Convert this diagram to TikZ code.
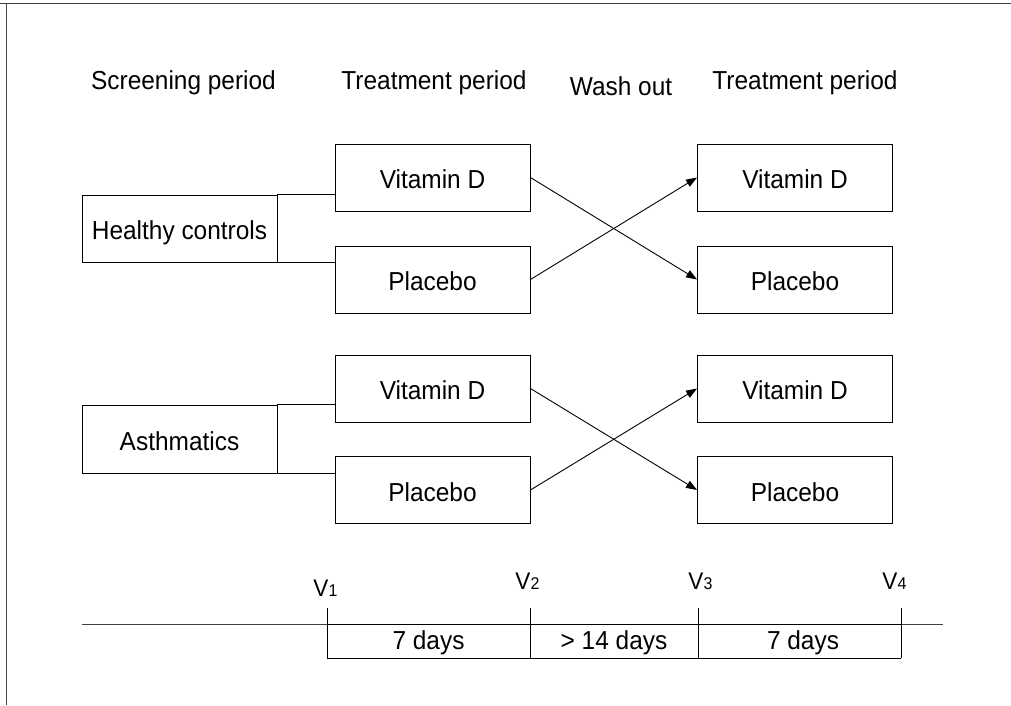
\documentclass[tikz,border=0pt]{standalone}
\usepackage{fontspec}
\setmainfont{Liberation Sans}[FakeStretch=0.94]
\usetikzlibrary{arrows.meta}
\newcommand\mainsz{\fontsize{26}{31}\selectfont}
\newcommand\vsz{\fontsize{24}{29}\selectfont}
\newcommand\dsz{\fontsize{17}{20}\selectfont}
\begin{document}
\begin{tikzpicture}[x=1pt,y=-1pt,line width=0.9pt,
  box/.style={draw,minimum width=195pt,minimum height=67pt,inner sep=0pt,
    text height=22.6pt,text depth=0pt,font=\mainsz},
  hdr/.style={anchor=base,inner sep=0pt,font=\mainsz},
  lbl/.style={anchor=base,inner sep=0pt,font=\mainsz},
  vlab/.style={anchor=base west,inner sep=0pt,font=\vsz},
  arr/.style={-{Triangle[length=11pt,width=8pt]}}]
\useasboundingbox (0,0) rectangle (1011,705);
% frame
\coordinate (fa) at (0,3);
\coordinate (fb) at (1011,3);
\coordinate (fc) at (6,3);
\coordinate (fd) at (6,705);
\draw[black!75] (fa) -- (fb);
\draw[black!75] (fc) -- (fd);
% headers
\node[hdr] (h1) at (183.5,89) {Screening period};
\node[hdr] (h2) at (434,89) {Treatment period};
\node[hdr] (h3) at (621,95) {Wash out};
\node[hdr] (h4) at (805,89) {Treatment period};
% boxes
\node[box] (hc) at (179.5,228.5) {Healthy controls};
\node[box,minimum height=68pt] (as) at (179.5,439) {Asthmatics};
\node[box] (tv1) at (432.5,177.5) {Vitamin D};
\node[box] (tp1) at (432.5,279.5) {Placebo};
\node[box] (rv1) at (795,177.5) {Vitamin D};
\node[box] (rp1) at (795,279.5) {Placebo};
\node[box] (tv2) at (432.5,388.5) {Vitamin D};
\node[box] (tp2) at (432.5,490) {Placebo};
\node[box] (rv2) at (795,388.5) {Vitamin D};
\node[box] (rp2) at (795,490) {Placebo};
% connectors
\draw (hc.north east) -- (hc.north east -| tv1.west);
\draw (hc.south east) -- (hc.south east -| tp1.west);
\draw (as.north east) -- (as.north east -| tv2.west);
\draw (as.south east) -- (as.south east -| tp2.west);
\draw[arr] (tv1.east) -- (rp1.west);
\draw[arr] (tp1.east) -- (rv1.west);
\draw[arr] (tv2.east) -- (rp2.west);
\draw[arr] (tp2.east) -- (rv2.west);
% timeline
\coordinate (la) at (82,624);
\coordinate (lb) at (943,624);
\coordinate (t1) at (327,624);
\coordinate (t2) at (530,624);
\coordinate (t3) at (698,624);
\coordinate (t4) at (901,624);
\draw[black!75] (la) -- (lb);
\draw (t1) -- (t4);
\foreach \t in {t1,t2,t3,t4}{
  \draw ([yshift=16pt]\t) -- ([yshift=-34pt]\t);
}
\draw ([yshift=-34pt]t1) -- ([yshift=-34pt]t4);
\node[lbl] (d1) at (428.5,649) {7 days};
\node[lbl] (d2) at (614,649) {> 14 days};
\node[lbl] (d3) at (803,649) {7 days};
\node[vlab] (v1) at (313,596) {V{\dsz 1}};
\node[vlab] (v2) at (515,589) {V{\dsz 2}};
\node[vlab] (v3) at (688,589) {V{\dsz 3}};
\node[vlab] (v4) at (882,589) {V{\dsz 4}};
\end{tikzpicture}
\end{document}
